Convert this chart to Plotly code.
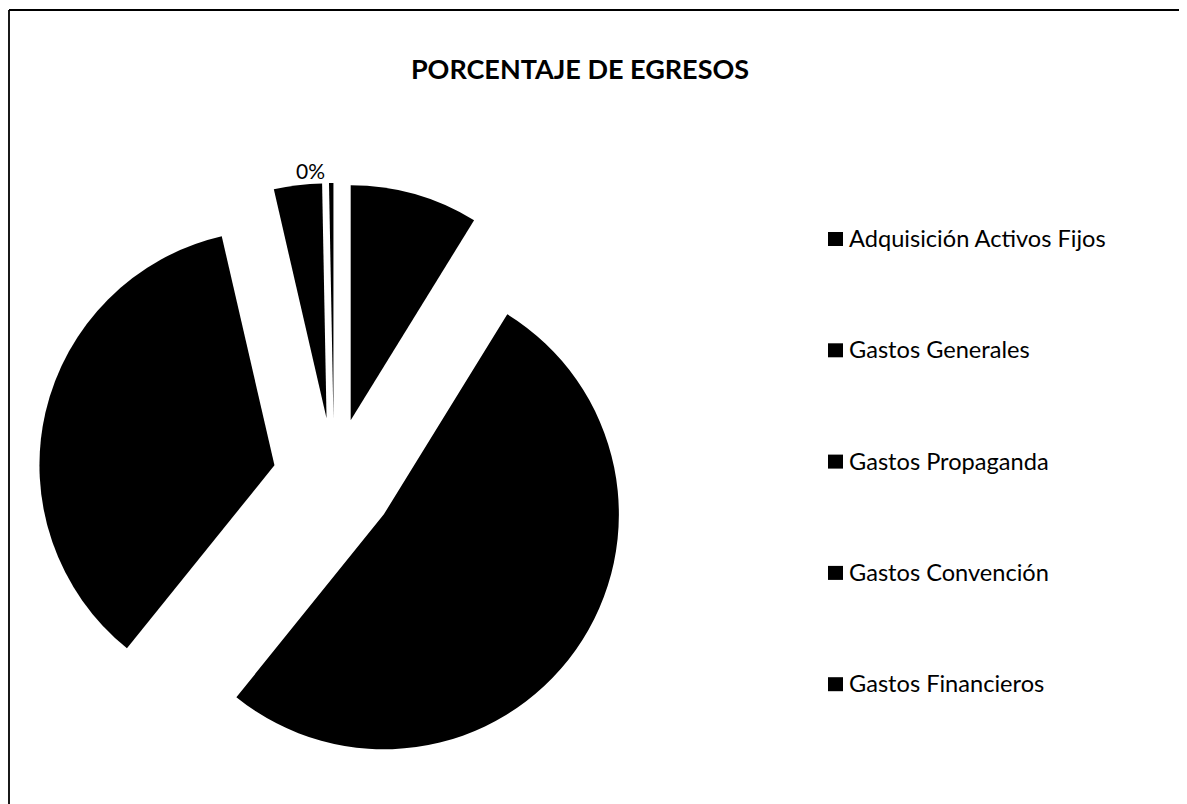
import plotly.graph_objects as go

W, H = 1187, 804
OFF = 8  # page offset of the figure inside the browser window

title = "PORCENTAJE DE EGRESOS"
categories = ["Adquisición Activos Fijos", "Gastos Generales", "Gastos Propaganda",
              "Gastos Convención", "Gastos Financieros"]
values = [8.8, 52.0, 35.6, 3.3, 0.3]
text_positions = ["inside", "inside", "inside", "inside", "outside"]

FONT = "Lato, 'Open Sans', sans-serif"


def px_x(x):
    return (x - OFF) / W


def px_y(y):
    return 1 - (y - OFF) / H


# pie geometry (window pixels)
cx, cy, r, pull = 334, 479, 235, 0.26
half = r * (1 + pull)

fig = go.Figure()
fig.add_trace(go.Pie(
    labels=categories,
    values=values,
    sort=False,
    direction="clockwise",
    rotation=0,
    pull=[pull] * len(values),
    marker=dict(colors=["#000000"] * len(values), line=dict(width=0)),
    texttemplate="%{percent:.0%}",
    textposition=text_positions,
    insidetextfont=dict(color="#000000", size=21, family=FONT),
    outsidetextfont=dict(color="#000000", size=21, family=FONT),
    domain=dict(x=[px_x(cx - half), px_x(cx + half)],
                y=[px_y(cy + half), px_y(cy - half)]),
    showlegend=False,
    hoverinfo="label+percent",
))

bx = 1 / W
by = 1 - 2 / H
shapes = [
    dict(type="line", xref="paper", yref="paper", x0=bx, x1=bx,
         y0=0, y1=by, line=dict(color="#000000", width=1.8)),
    dict(type="line", xref="paper", yref="paper", x0=bx, x1=1,
         y0=by, y1=by, line=dict(color="#000000", width=1.8)),
]
annotations = []
row_top, row_step = 238, 111.3
for i, name in enumerate(categories):
    yy = row_top + i * row_step
    shapes.append(dict(type="rect", xref="paper", yref="paper",
                       x0=px_x(828), x1=px_x(843), y0=px_y(yy + 8), y1=px_y(yy - 6),
                       fillcolor="#000000", line=dict(width=0)))
    annotations.append(dict(text=name, xref="paper", yref="paper",
                            x=px_x(847), y=px_y(yy), xanchor="left", yanchor="middle",
                            showarrow=False,
                            font=dict(family=FONT, size=23.6, color="#000000")))

fig.update_layout(
    width=W, height=H,
    margin=dict(l=0, r=0, t=0, b=0, autoexpand=False),
    paper_bgcolor="#ffffff",
    plot_bgcolor="#ffffff",
    showlegend=False,
    title=dict(text="<b>" + title + "</b>", x=px_x(580), y=px_y(70), xanchor="center",
               yanchor="middle", font=dict(family=FONT, size=27, color="#000000")),
    shapes=shapes,
    annotations=annotations,
)

fig.write_html("out.html")
